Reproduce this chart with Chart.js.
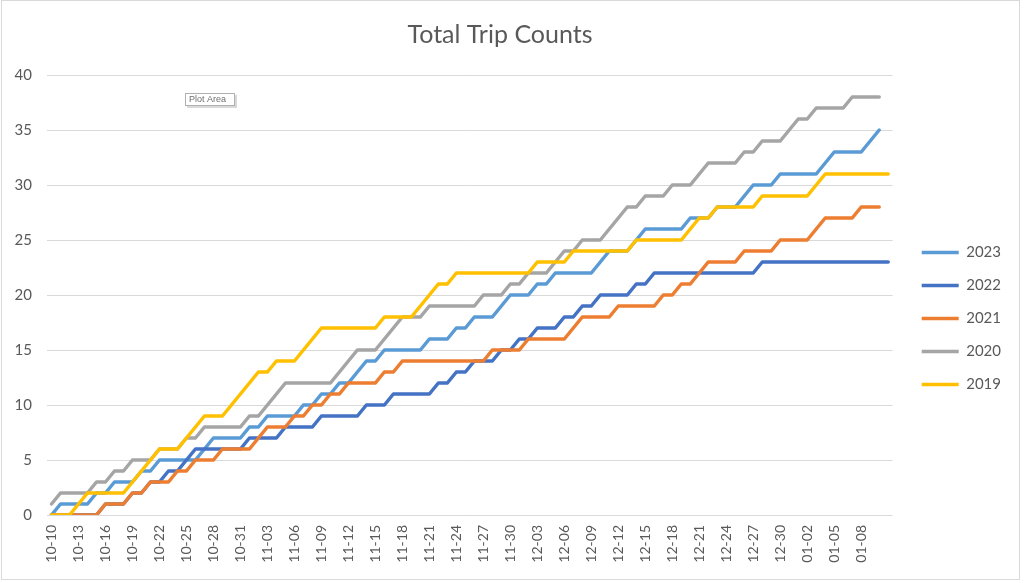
<!DOCTYPE html>
<html>
<head>
<meta charset="utf-8">
<title>Total Trip Counts</title>
<script src="https://cdn.jsdelivr.net/npm/chart.js@4.4.1/dist/chart.umd.min.js"></script>
<style>
    html, body { margin: 0; padding: 0; background: #fff; }
    #wrap { width: 1024px; height: 583px; position: relative; }
</style>
</head>
<body>
<div id="wrap"><canvas id="tripChart"></canvas></div>
<script>
// --- Data ---
// one category per day, 10-10 through 01-11
const days = [
    '10-10','10-11','10-12','10-13','10-14','10-15','10-16','10-17','10-18','10-19','10-20',
    '10-21','10-22','10-23','10-24','10-25','10-26','10-27','10-28','10-29','10-30','10-31',
    '11-01','11-02','11-03','11-04','11-05','11-06','11-07','11-08','11-09','11-10',
    '11-11','11-12','11-13','11-14','11-15','11-16','11-17','11-18','11-19','11-20',
    '11-21','11-22','11-23','11-24','11-25','11-26','11-27','11-28','11-29','11-30',
    '12-01','12-02','12-03','12-04','12-05','12-06','12-07','12-08','12-09','12-10',
    '12-11','12-12','12-13','12-14','12-15','12-16','12-17','12-18','12-19','12-20',
    '12-21','12-22','12-23','12-24','12-25','12-26','12-27','12-28','12-29','12-30','12-31',
    '01-01','01-02','01-03','01-04','01-05','01-06','01-07','01-08','01-09','01-10','01-11'
];

// cumulative trip counts per season
const trips2023 = [0,1,1,1,1,2,2,3,3,3,4,4,5,5,5,5,5,6,7,7,7,7,8,8,9,9,9,9,10,10,11,11,12,12,13,14,14,15,15,15,15,15,16,16,16,17,17,18,18,18,19,20,20,20,21,21,22,22,22,22,22,23,24,24,24,25,26,26,26,26,26,27,27,27,28,28,28,29,30,30,30,31,31,31,31,31,32,33,33,33,33,34,35,null];
const trips2022 = [0,0,0,0,0,0,1,1,1,2,2,3,3,4,4,5,6,6,6,6,6,6,7,7,7,7,8,8,8,8,9,9,9,9,9,10,10,10,11,11,11,11,11,12,12,13,13,14,14,14,15,15,16,16,17,17,17,18,18,19,19,20,20,20,20,21,21,22,22,22,22,22,22,22,22,22,22,22,22,23,23,23,23,23,23,23,23,23,23,23,23,23,23,23];
const trips2021 = [0,0,0,0,0,0,1,1,1,2,2,3,3,3,4,4,5,5,5,6,6,6,6,7,8,8,8,9,9,10,10,11,11,12,12,12,12,13,13,14,14,14,14,14,14,14,14,14,14,15,15,15,15,16,16,16,16,16,17,18,18,18,18,19,19,19,19,19,20,20,21,21,22,23,23,23,23,24,24,24,24,25,25,25,25,26,27,27,27,27,28,28,28,null];
const trips2020 = [1,2,2,2,2,3,3,4,4,5,5,5,6,6,6,7,7,8,8,8,8,8,9,9,10,11,12,12,12,12,12,12,13,14,15,15,15,16,17,18,18,18,19,19,19,19,19,19,20,20,20,21,21,22,22,22,23,24,24,25,25,25,26,27,28,28,29,29,29,30,30,30,31,32,32,32,32,33,33,34,34,34,35,36,36,37,37,37,37,38,38,38,38,null];
const trips2019 = [0,0,0,1,2,2,2,2,2,3,4,5,6,6,6,7,8,9,9,9,10,11,12,13,13,14,14,14,15,16,17,17,17,17,17,17,17,18,18,18,18,19,20,21,21,22,22,22,22,22,22,22,22,22,23,23,23,23,24,24,24,24,24,24,24,25,25,25,25,25,25,26,27,27,28,28,28,28,28,29,29,29,29,29,29,30,31,31,31,31,31,31,31,31];

const yTicks = [0, 5, 10, 15, 20, 25, 30, 35, 40];

const textGray = '#595959';
const fontFamily = "Lato, 'Open Sans', sans-serif";

// Chart frame, legend placement and the little "Plot Area" hover tip
const excelFrame = {
    id: 'excelFrame',
    afterLayout(chart) {
        const lg = chart.legend;
        lg.left += 11; lg.right += 11;
        lg.top += 27; lg.bottom += 27;
    },
    afterDraw(chart) {
        const ctx = chart.ctx;
        ctx.save();
        ctx.strokeStyle = '#d9d9d9';
        ctx.lineWidth = 1;
        ctx.strokeRect(1.5, 0.5, 1018, 579);

        ctx.fillStyle = 'rgba(0, 0, 0, 0.15)';
        ctx.fillRect(187, 95, 50, 13);
        ctx.fillStyle = '#fff';
        ctx.fillRect(185, 93, 50, 13);
        ctx.strokeStyle = '#b0b0b0';
        ctx.strokeRect(185.5, 93.5, 49, 12);
        ctx.fillStyle = '#707070';
        ctx.font = "9px 'Liberation Sans', sans-serif";
        ctx.textBaseline = 'middle';
        ctx.fillText('Plot Area', 189, 100);
        ctx.restore();
    }
};

function makeSeries(label, data, color, order) {
    return {
        label: label,
        data: data,
        borderColor: color,
        backgroundColor: color,
        borderWidth: 3.5,
        borderCapStyle: 'round',
        borderJoinStyle: 'round',
        pointRadius: 0,
        pointHoverRadius: 0,
        tension: 0,
        order: order
    };
}

new Chart(document.getElementById('tripChart'), {
    type: 'line',
    data: {
        labels: days,
        datasets: [
            makeSeries('2023', trips2023, '#5B9BD5', 5),
            makeSeries('2022', trips2022, '#4472C4', 4),
            makeSeries('2021', trips2021, '#ED7D31', 3),
            makeSeries('2020', trips2020, '#A5A5A5', 2),
            makeSeries('2019', trips2019, '#FFC000', 1)
        ]
    },
    options: {
        responsive: true,
        maintainAspectRatio: false,
        animation: false,
        layout: { padding: { left: 0, right: 24, top: 0, bottom: 0 } },
        plugins: {
            title: {
                display: true,
                text: 'Total Trip Counts',
                color: textGray,
                font: { size: 25, family: fontFamily, weight: 'normal' },
                padding: { top: 20, bottom: 25 }
            },
            legend: {
                position: 'right',
                labels: {
                    usePointStyle: true,
                    pointStyle: 'line',
                    pointStyleWidth: 37,
                    padding: 18,
                    color: textGray,
                    font: { size: 15, family: fontFamily },
                    sort: (a, b) => a.datasetIndex - b.datasetIndex
                }
            },
            tooltip: { enabled: false }
        },
        scales: {
            x: {
                offset: true,
                grid: { display: false, drawTicks: false },
                border: { display: false },
                ticks: {
                    autoSkip: false,
                    minRotation: 90,
                    maxRotation: 90,
                    padding: 10,
                    color: textGray,
                    font: { size: 14, family: fontFamily },
                    callback: (value, index) => (index % 3 === 0 && index < days.length - 1) ? days[index] : ''
                },
                afterFit(scale) { scale.height = 68; }
            },
            y: {
                min: 0,
                max: 40,
                afterBuildTicks(scale) { scale.ticks = yTicks.map(v => ({ value: v })); },
                grid: { color: '#d9d9d9', drawTicks: false },
                border: { display: false },
                ticks: {
                    padding: 15,
                    color: textGray,
                    font: { size: 15, family: fontFamily }
                },
                afterFit(scale) { scale.width = 47; }
            }
        }
    },
    plugins: [excelFrame]
});
</script>
</body>
</html>
